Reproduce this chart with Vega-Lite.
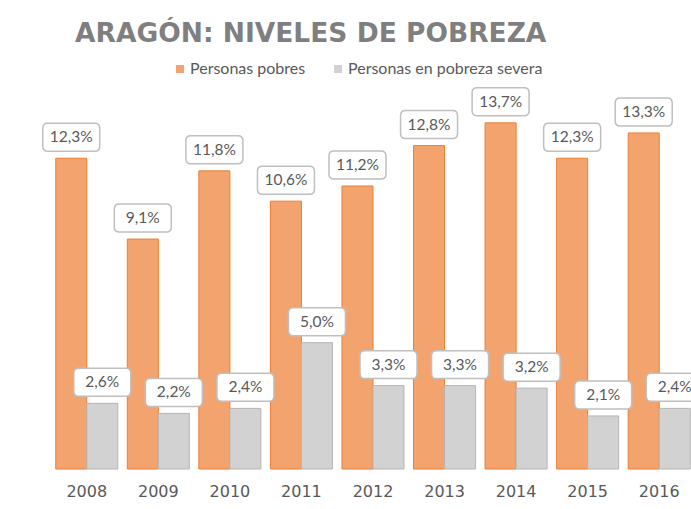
{
  "$schema": "https://vega.github.io/schema/vega-lite/v6.json",
  "width": 644,
  "height": 379,
  "autosize": {"type": "none"},
  "padding": {"left": 51, "top": 90, "right": 0, "bottom": 40},
  "background": "white",
  "title": {
    "text": "ARAGÓN: NIVELES DE POBREZA",
    "anchor": "start",
    "frame": "group",
    "dx": 24,
    "offset": -7,
    "font": "DejaVu Sans",
    "fontWeight": "bold",
    "fontSize": 26.5,
    "color": "#7f7f7f",
    "baseline": "alphabetic"
  },
  "config": {"view": {"stroke": null}},
  "data": {
    "values": [
      {"year": "2008", "serie": "Personas pobres", "value": 12.3, "label": "12,3%"},
      {"year": "2008", "serie": "Personas en pobreza severa", "value": 2.6, "label": "2,6%"},
      {"year": "2009", "serie": "Personas pobres", "value": 9.1, "label": "9,1%"},
      {"year": "2009", "serie": "Personas en pobreza severa", "value": 2.2, "label": "2,2%"},
      {"year": "2010", "serie": "Personas pobres", "value": 11.8, "label": "11,8%"},
      {"year": "2010", "serie": "Personas en pobreza severa", "value": 2.4, "label": "2,4%"},
      {"year": "2011", "serie": "Personas pobres", "value": 10.6, "label": "10,6%"},
      {"year": "2011", "serie": "Personas en pobreza severa", "value": 5.0, "label": "5,0%"},
      {"year": "2012", "serie": "Personas pobres", "value": 11.2, "label": "11,2%"},
      {"year": "2012", "serie": "Personas en pobreza severa", "value": 3.3, "label": "3,3%"},
      {"year": "2013", "serie": "Personas pobres", "value": 12.8, "label": "12,8%"},
      {"year": "2013", "serie": "Personas en pobreza severa", "value": 3.3, "label": "3,3%"},
      {"year": "2014", "serie": "Personas pobres", "value": 13.7, "label": "13,7%"},
      {"year": "2014", "serie": "Personas en pobreza severa", "value": 3.2, "label": "3,2%"},
      {"year": "2015", "serie": "Personas pobres", "value": 12.3, "label": "12,3%"},
      {"year": "2015", "serie": "Personas en pobreza severa", "value": 2.1, "label": "2,1%"},
      {"year": "2016", "serie": "Personas pobres", "value": 13.3, "label": "13,3%"},
      {"year": "2016", "serie": "Personas en pobreza severa", "value": 2.4, "label": "2,4%"}
    ]
  },
  "encoding": {
    "x": {
      "field": "year",
      "type": "ordinal",
      "scale": {"paddingInner": 0.133, "paddingOuter": 0.0665},
      "axis": {
        "title": null,
        "domain": false,
        "ticks": false,
        "labelAngle": 0,
        "labelFont": "DejaVu Sans",
        "labelFontSize": 16,
        "labelColor": "#595959",
        "labelPadding": 14
      }
    },
    "xOffset": {
      "field": "serie",
      "type": "nominal",
      "sort": ["Personas pobres", "Personas en pobreza severa"],
      "scale": {"paddingInner": 0, "paddingOuter": 0}
    },
    "y": {
      "field": "value",
      "type": "quantitative",
      "scale": {"domain": [0, 15]},
      "axis": null
    }
  },
  "layer": [
    {
      "mark": {"type": "bar", "strokeWidth": 1},
      "encoding": {
        "color": {
          "field": "serie",
          "type": "nominal",
          "scale": {
            "domain": ["Personas pobres", "Personas en pobreza severa"],
            "range": ["#f3a46e", "#d2d2d2"]
          },
          "legend": {
            "title": null,
            "orient": "none",
            "legendX": 121,
            "legendY": -29,
            "direction": "horizontal",
            "symbolType": "square",
            "symbolSize": 64,
            "symbolStrokeWidth": 0,
            "labelFont": "Lato",
            "labelFontSize": 16,
            "labelColor": "#595959",
            "labelLimit": 400,
            "columnPadding": 24,
            "labelOffset": 2
          }
        },
        "stroke": {
          "field": "serie",
          "type": "nominal",
          "scale": {
            "domain": ["Personas pobres", "Personas en pobreza severa"],
            "range": ["#ed7d31", "#b5b5b5"]
          },
          "legend": null
        }
      }
    },
    {
      "mark": {
        "type": "point",
        "shape": "M-0.825,-0.491L0.825,-0.491Q1,-0.491 1,-0.316L1,0.316Q1,0.491 0.825,0.491L-0.825,0.491Q-1,0.491 -1,0.316L-1,-0.316Q-1,-0.491 -0.825,-0.491Z",
        "size": 3249,
        "filled": true,
        "fill": "white",
        "stroke": "#bfbfbf",
        "strokeWidth": 1.5,
        "opacity": 1,
        "yOffset": -21
      }
    },
    {
      "mark": {
        "type": "text",
        "yOffset": -21,
        "font": "Lato",
        "fontSize": 15.5,
        "color": "#595959",
        "baseline": "middle"
      },
      "encoding": {"text": {"field": "label"}}
    }
  ]
}
